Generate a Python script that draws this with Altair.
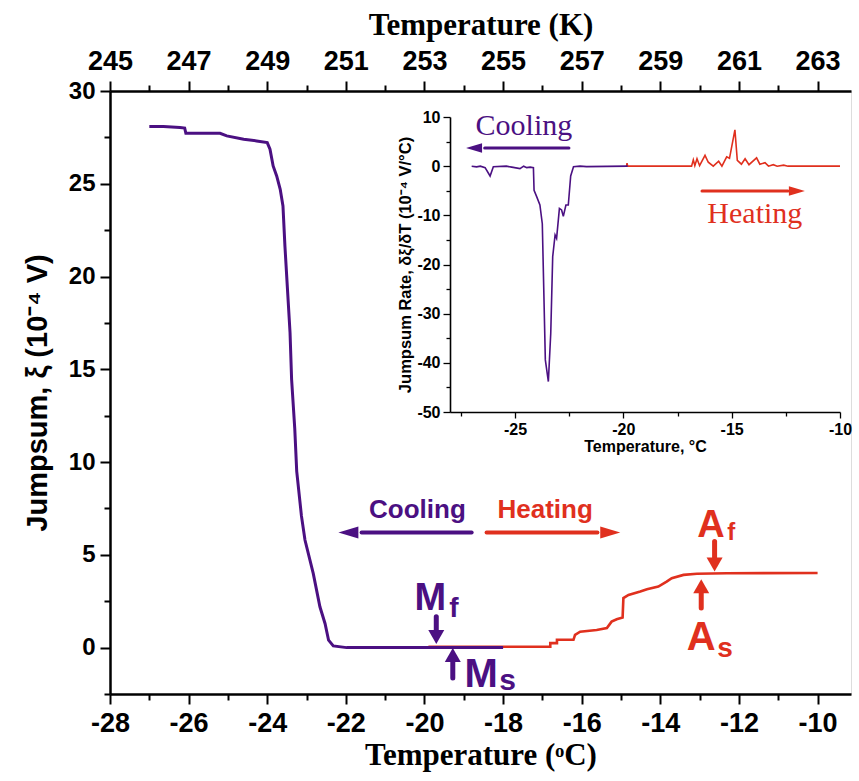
import altair as alt
import pandas as pd

PURPLE = "#4B1082"
RED = "#E0301E"
SANS = "Liberation Sans"
NARROW = "Liberation Sans Narrow, Liberation Sans"
SERIF = "Liberation Serif"

# ---------------- main curve data (Temperature °C, Jumpsum 1e-4 V) -------------
COOL_T = [-27.0, -26.64, -26.22, -26.1, -26.07, -25.2, -25.03, -24.6, -24.27, -24.0,
          -23.93, -23.85, -23.76, -23.67, -23.6, -23.55, -23.49, -23.42, -23.38, -23.3,
          -23.25, -23.13, -23.04, -22.83, -22.66, -22.53, -22.44, -22.32, -21.98, -18.0]
COOL_J = [28.08, 28.08, 28.03, 28.0, 27.72, 27.72, 27.58, 27.4, 27.31, 27.22,
          26.86, 25.96, 25.42, 24.7, 23.8, 21.64, 19.48, 16.97, 14.45, 11.8,
          9.5, 7.1, 5.8, 4.0, 2.2, 1.3, 0.4, 0.09, 0.0, 0.0]

HEAT_T = [-19.9, -17.06, -16.8, -16.8, -16.63, -16.63, -16.21, -16.17, -16.04, -15.62,
          -15.36, -15.24, -15.11, -14.96, -14.94, -14.81, -14.51, -14.34, -14.05, -13.84,
          -13.71, -13.41, -13.07, -12.31, -10.0]
HEAT_J = [0.04, 0.05, 0.05, 0.24, 0.24, 0.42, 0.42, 0.69, 0.86, 0.95,
          1.05, 1.4, 1.53, 1.62, 2.67, 2.84, 3.02, 3.15, 3.29, 3.56,
          3.74, 3.92, 3.98, 4.01, 4.02]

# ---------------- inset data (Temperature °C, rate 1e-4 V/°C) ------------------
IN_COOL_T = [-27.0, -26.77, -26.6, -26.38, -26.15, -26.0, -25.4, -25.15, -24.77, -24.6,
             -24.46, -24.3, -24.15, -24.12, -24.0, -23.85, -23.74, -23.6, -23.46, -23.35,
             -23.26, -23.15, -23.08, -22.95, -22.85, -22.77, -22.65, -22.54, -22.43, -22.3,
             -22.0, -21.7, -19.8]
IN_COOL_R = [0.0, -0.15, 0.0, -0.3, -2.0, -0.1, 0.0, -0.2, -0.5, 0.0,
             -0.3, -0.2, -0.3, -4.9, -6.2, -7.9, -11.7, -39.4, -43.8, -34.0,
             -18.4, -14.0, -14.7, -8.6, -8.9, -10.2, -7.9, -7.9, -2.0, -0.1,
             0.0, -0.1, 0.0]

IN_HEAT_T = [-19.85, -19.83, -19.8, -16.85, -16.77, -16.7, -16.6, -16.48, -16.23, -16.08,
             -15.85, -15.6, -15.45, -15.23, -15.1, -14.85, -14.74, -14.55, -14.38, -14.2,
             -13.85, -13.7, -13.46, -13.3, -13.08, -12.9, -12.6, -12.4, -10.0]
IN_HEAT_R = [0.0, 0.6, 0.0, 0.0, 1.3, 0.1, 1.5, 0.1, 2.2, 0.8,
             0.0, 1.0, 0.0, 1.9, 1.6, 7.4, 1.2, 0.4, 1.5, 0.3,
             1.7, 0.4, 0.7, 0.0, 0.3, 0.0, 0.2, 0.0, 0.0]

# ---------------- axis tick values ---------------------------------------------
C_TICKS = list(range(-28, -9))
K_TICKS = list(range(245, 264))
J_TICKS = [-2.5, 0, 2.5, 5, 7.5, 10, 12.5, 15, 17.5, 20, 22.5, 25, 27.5, 30]
IN_C_TICKS = [-27.5, -25, -22.5, -20, -17.5, -15, -12.5, -10]
IN_R_TICKS = [-50, -45, -40, -35, -30, -25, -20, -15, -10, -5, 0, 5, 10]

W, H = 741, 603


def df_line(ts, vs):
    return pd.DataFrame({"t": ts, "j": vs, "i": list(range(len(ts)))})


xs = alt.Scale(domain=[-28, -9.15], nice=False, zero=False)
ys = alt.Scale(domain=[-2.5, 30], nice=False, zero=False)

x_axis = alt.Axis(
    orient="bottom", values=C_TICKS, title="Temperature (ᵒC)",
    labelExpr="datum.value % 2 === 0 ? '' + datum.value : ''",
    tickSize={"condition": {"test": "datum.value % 2 === 0", "value": 10}, "value": 6},
    labelFont=NARROW, labelFontSize=27, labelFontWeight="bold", labelPadding=6,
    titleFont=SERIF, titleFontSize=31, titleFontWeight="bold", titlePadding=4,
    domainWidth=2.5, tickWidth=2, domainColor="black", tickColor="black",
    labelColor="black", titleColor="black", grid=False, labelFlush=False,
)
y_axis = alt.Axis(
    orient="left", values=J_TICKS, title="Jumpsum, ξ  (10⁻⁴ V)",
    labelExpr="datum.value % 5 === 0 ? '' + datum.value : ''",
    tickSize={"condition": {"test": "datum.value % 5 === 0", "value": 10}, "value": 6},
    labelFont=SANS, labelFontSize=24, labelFontWeight="bold", labelPadding=5,
    titleFont=SANS, titleFontSize=29, titleFontWeight="bold", titlePadding=16,
    domainWidth=2.5, tickWidth=2, domainColor="black", tickColor="black",
    labelColor="black", titleColor="black", grid=False, labelFlush=False,
)

base = alt.Chart(df_line(COOL_T, COOL_J))
cool = base.mark_line(color=PURPLE, strokeWidth=3).encode(
    x=alt.X("t:Q", scale=xs, axis=x_axis),
    y=alt.Y("j:Q", scale=ys, axis=y_axis),
    order="i:Q",
)
heat = alt.Chart(df_line(HEAT_T, HEAT_J)).mark_line(color=RED, strokeWidth=2.6).encode(
    x="t:Q", y="j:Q", order="i:Q")


def text_layer(t, j, s, color, font, size, align="center", weight="bold"):
    d = pd.DataFrame({"t": [t], "j": [j], "s": [s]})
    return alt.Chart(d).mark_text(
        color=color, font=font, fontSize=size, fontWeight=weight,
        align=align, baseline="alphabetic").encode(x="t:Q", y="j:Q", text="s:N")


def shaft(t1, j1, t2, j2, color, width):
    d = pd.DataFrame({"t": [t1], "j": [j1], "t2": [t2], "j2": [j2]})
    return alt.Chart(d).mark_rule(color=color, strokeWidth=width, strokeCap="round").encode(
        x="t:Q", y="j:Q", x2="t2:Q", y2="j2:Q")


HEAD_R = "M0,0L-2,-0.6L-2,0.6Z"
HEAD_L = "M0,0L2,-0.6L2,0.6Z"
HEAD_D = "M0,0L-1,-1.75L1,-1.75Z"
HEAD_U = "M0,0L-1,1.75L1,1.75Z"


def head(t, j, shape, color, size):
    d = pd.DataFrame({"t": [t], "j": [j]})
    return alt.Chart(d).mark_point(shape=shape, filled=True, color=color, opacity=1,
                                   size=size, strokeWidth=0).encode(x="t:Q", y="j:Q")


main_ann = [
    text_layer(-20.18, 7.0, "Cooling", PURPLE, SANS, 26),
    text_layer(-16.93, 7.0, "Heating", RED, SANS, 26),
    shaft(-18.8, 6.2, -21.6, 6.2, PURPLE, 4), head(-22.19, 6.2, HEAD_L, PURPLE, 400),
    shaft(-18.42, 6.2, -15.6, 6.2, RED, 4), head(-15.02, 6.2, HEAD_R, RED, 400),
    # M_f
    text_layer(-19.85, 2.03, "M", PURPLE, NARROW, 38),
    text_layer(-19.37, 1.66, "f", PURPLE, NARROW, 28, align="left"),
    shaft(-19.7, 1.66, -19.7, 0.85, PURPLE, 5), head(-19.7, 0.2, HEAD_D, PURPLE, 256),
    # M_s
    text_layer(-18.56, -2.12, "M", PURPLE, NARROW, 40),
    text_layer(-18.1, -2.28, "s", PURPLE, NARROW, 30, align="left"),
    shaft(-19.28, -1.64, -19.28, -0.7, PURPLE, 5), head(-19.28, -0.02, HEAD_U, PURPLE, 256),
    # A_f
    text_layer(-12.71, 5.97, "A", RED, NARROW, 38),
    text_layer(-12.30, 5.81, "f", RED, NARROW, 24, align="left"),
    shaft(-12.62, 5.72, -12.62, 4.8, RED, 5), head(-12.62, 4.1, HEAD_D, RED, 256),
    # A_s
    text_layer(-12.96, -0.12, "A", RED, NARROW, 40),
    text_layer(-12.55, -0.5, "s", RED, NARROW, 28, align="left"),
    shaft(-12.96, 2.14, -12.96, 3.0, RED, 5), head(-12.96, 3.69, HEAD_U, RED, 256),
]

main_layer = alt.layer(heat, cool, *main_ann)

# ---------------- top Kelvin axis -------------------------------------------
k_axis = alt.Axis(
    orient="top", values=K_TICKS, title="Temperature (K)",
    labelExpr="datum.value % 2 === 1 ? '' + datum.value : ''",
    tickSize={"condition": {"test": "datum.value % 2 === 1", "value": 10}, "value": 6},
    labelFont=NARROW, labelFontSize=27, labelFontWeight="bold", labelPadding=6,
    titleFont=SERIF, titleFontSize=31, titleFontWeight="bold", titlePadding=6,
    domainWidth=2.5, tickWidth=2, domainColor="black", tickColor="black",
    labelColor="black", titleColor="black", grid=False, labelFlush=False,
)
k_layer = alt.Chart(pd.DataFrame({"K": K_TICKS})).mark_point(opacity=0).encode(
    x=alt.X("K:Q", scale=alt.Scale(domain=[245, 263.85], nice=False, zero=False), axis=k_axis),
    y=alt.value(0),
)

# ---------------- inset -------------------------------------------------------
ixs = alt.Scale(domain=[-28, -10], range=[340, 730], nice=False, zero=False)
iys = alt.Scale(domain=[-50, 10], range=[321, 26], nice=False, zero=False)
ix_axis = alt.Axis(
    orient="bottom", offset=-282, values=IN_C_TICKS, title="Temperature, °C",
    labelExpr="datum.value % 5 === 0 ? '' + datum.value : ''",
    tickSize={"condition": {"test": "datum.value % 5 === 0", "value": 6}, "value": 4},
    labelFont=SANS, labelFontSize=16, labelFontWeight="bold", labelPadding=3,
    titleFont=SANS, titleFontSize=16, titleFontWeight="bold", titlePadding=1,
    domainWidth=1.6, tickWidth=1.3, domainColor="black", tickColor="black",
    labelColor="black", titleColor="black", grid=False, labelFlush=False,
)
iy_axis = alt.Axis(
    orient="left", offset=-340, values=IN_R_TICKS, title="Jumpsum Rate, δξ/δT  (10⁻⁴ V/°C)",
    labelExpr="datum.value % 10 === 0 ? '' + datum.value : ''",
    tickSize={"condition": {"test": "datum.value % 10 === 0", "value": 7}, "value": 4},
    labelFont=SANS, labelFontSize=16, labelFontWeight="bold", labelPadding=3,
    titleFont=SANS, titleFontSize=16.5, titleFontWeight="bold", titlePadding=3,
    domainWidth=1.6, tickWidth=1.3, domainColor="black", tickColor="black",
    labelColor="black", titleColor="black", grid=False, labelFlush=False,
)

in_cool = alt.Chart(df_line(IN_COOL_T, IN_COOL_R)).mark_line(color=PURPLE, strokeWidth=1.6).encode(
    x=alt.X("t:Q", scale=ixs, axis=ix_axis),
    y=alt.Y("j:Q", scale=iys, axis=iy_axis),
    order="i:Q",
)
in_heat = alt.Chart(df_line(IN_HEAT_T, IN_HEAT_R)).mark_line(color=RED, strokeWidth=1.6).encode(
    x="t:Q", y="j:Q", order="i:Q")

in_ann = [
    text_layer(-24.59, 6.34, "Cooling", PURPLE, SERIF, 30, weight="normal"),
    text_layer(-13.93, -11.5, "Heating", RED, SERIF, 30, weight="normal"),
    shaft(-22.51, 3.7, -26.4, 3.7, PURPLE, 3), head(-27.26, 3.7, HEAD_L, PURPLE, 256),
    shaft(-16.37, -5.05, -12.4, -5.05, RED, 3), head(-11.62, -5.05, HEAD_R, RED, 256),
]
inset_layer = alt.layer(in_heat, in_cool, *in_ann)

chart = alt.layer(main_layer, k_layer, inset_layer).resolve_scale(
    x="independent", y="independent"
).properties(
    width=W, height=H,
    autosize=alt.AutoSizeParams(type="none"),
    padding={"left": 110, "top": 91, "right": 8, "bottom": 87},
).configure_view(stroke="black", strokeWidth=2.5).configure(background="white")

chart.save("out.html", embed_options={"renderer": "svg", "actions": False})
